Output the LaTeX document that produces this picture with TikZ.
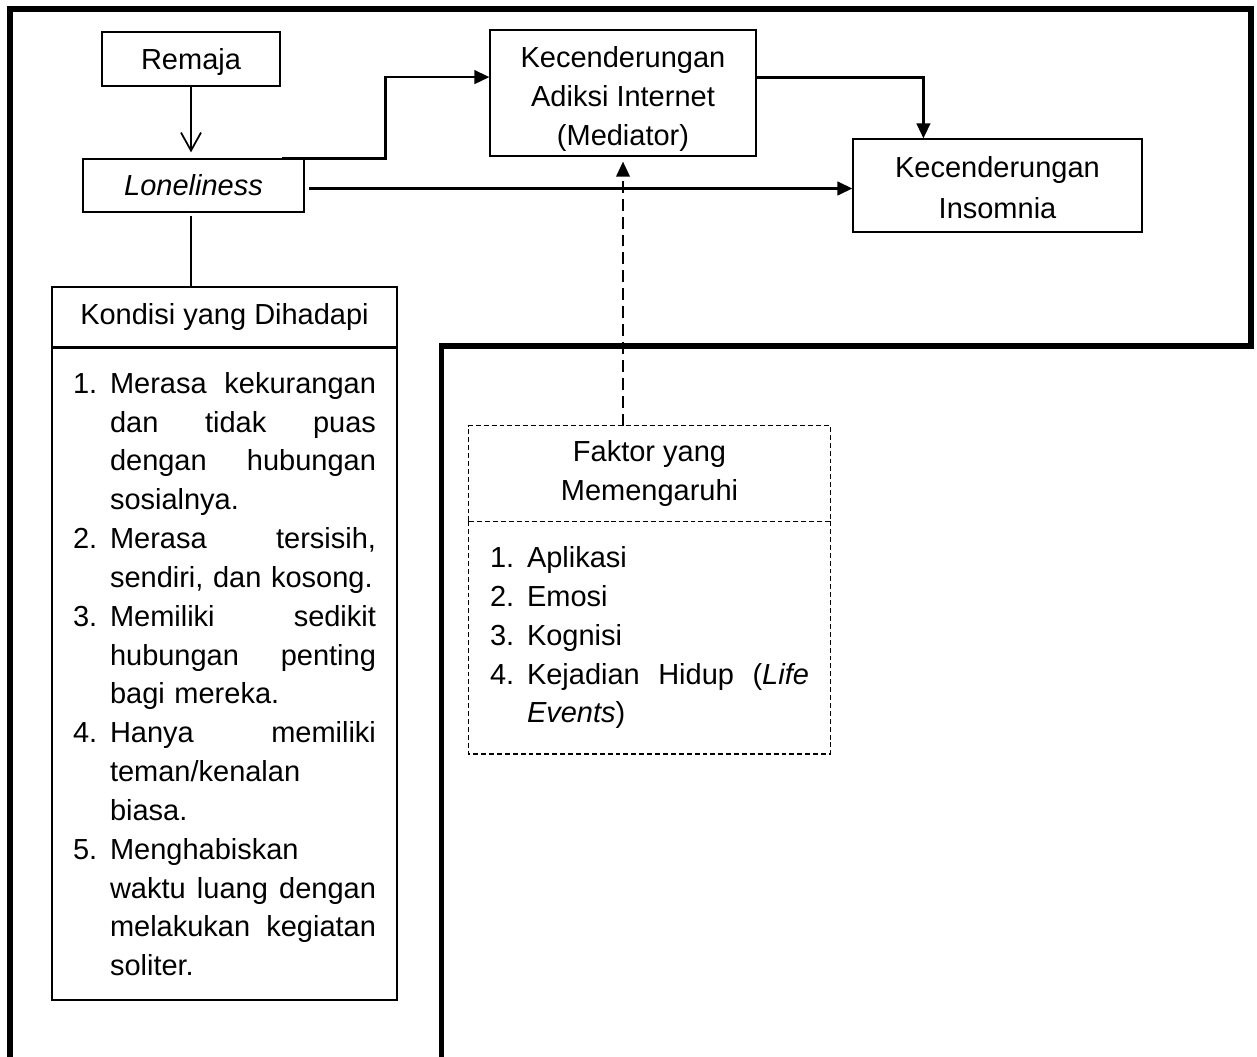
\documentclass[tikz,border=0pt]{standalone}
\usepackage{fontspec}
\setmainfont{Liberation Sans}
\usetikzlibrary{arrows.meta,positioning,calc}

\newlength{\numw}
\setlength{\numw}{0.74cm}

\tikzset{
  box/.style={draw,line width=0.7pt,align=center,inner sep=0pt},
  dbox/.style={inner sep=0pt,align=center},
  dline/.style={line width=0.7pt,dash pattern=on 2.8pt off 1.7pt},
  conn/.style={line width=1.5pt,-{Triangle[length=0.3cm,width=0.27cm]}},
}

\begin{document}
\begin{tikzpicture}[x=0.02cm,y=-0.02cm,font=\fontsize{16.5}{22.1}\selectfont]
  \useasboundingbox (0,0) rectangle (1257,1057);
  % thick frame
  \draw[line width=3.4pt] (10,1060)--(10,9)--(1251,9)--(1251,346)--(441.5,346)--(441.5,1060);

  \node[box,minimum width=3.56cm,minimum height=1.08cm,text depth=0pt] (remaja) at (191,59) {Remaja};
  \node[box,minimum width=4.42cm,minimum height=1.06cm] (lone) at (193.5,185.5) {\textit{Loneliness}};
  \node[box,minimum width=5.32cm,minimum height=2.52cm] (medi) at (623,93) {\rule{0pt}{0.66cm}Kecenderungan\\Adiksi Internet\\(Mediator)};
  \node[box,minimum width=5.78cm,minimum height=1.86cm] (insom) at (997.5,185.5) {\rule{0pt}{0.5cm}Kecenderungan\\[0.04cm]Insomnia};

  \node[box,minimum width=6.9cm,minimum height=1.2cm] (kondhead) at (224.5,317) {Kondisi yang Dihadapi};
  \node[box,minimum width=6.9cm,minimum height=13.04cm,below=0pt of kondhead,text width=6.06cm,align=left] (kondlist) {%
    \makebox[\numw][l]{1.}Merasa\hfill kekurangan\\
    \hspace*{\numw}dan\hfill tidak\hfill puas\\
    \hspace*{\numw}dengan\hfill hubungan\\
    \hspace*{\numw}sosialnya.\\
    \makebox[\numw][l]{2.}Merasa\hfill tersisih,\\
    \hspace*{\numw}sendiri, dan kosong.\\
    \makebox[\numw][l]{3.}Memiliki\hfill sedikit\\
    \hspace*{\numw}hubungan\hfill penting\\
    \hspace*{\numw}bagi mereka.\\
    \makebox[\numw][l]{4.}Hanya\hfill memiliki\\
    \hspace*{\numw}teman/kenalan\\
    \hspace*{\numw}biasa.\\
    \makebox[\numw][l]{5.}Menghabiskan\\
    \hspace*{\numw}waktu\hfill luang\hfill dengan\\
    \hspace*{\numw}melakukan\hfill kegiatan\\
    \hspace*{\numw}soliter.};

  \node[dbox,minimum width=7.22cm,minimum height=1.9cm] (fakhead) at (649.5,473.5) {Faktor yang\\Memengaruhi};
  \node[dbox,minimum width=7.22cm,minimum height=4.64cm,below=0pt of fakhead,text width=6.38cm,align=left] (faklist) {%
    \makebox[\numw][l]{1.}Aplikasi\\
    \makebox[\numw][l]{2.}Emosi\\
    \makebox[\numw][l]{3.}Kognisi\\
    \makebox[\numw][l]{4.}Kejadian\hfill Hidup\hfill (\textit{Life}\\
    \hspace*{\numw}\textit{Events})};
  \draw[dline] (fakhead.south west) rectangle (fakhead.north east);
  \draw[dline] (faklist.north west) |- (faklist.south east) -- (faklist.north east);

  % connectors
  \coordinate (lonetop) at ($(lone.north east)+(-23,0)$);
  \coordinate (loneout) at ($(lone.east)+(0,3)$);
  \coordinate (mediin) at ($(medi.north west)!0.375!(medi.south west)$);
  \coordinate (mediout) at ($(medi.north east)!0.38!(medi.south east)$);
  \coordinate (insomin) at ($(insom.north west)+(71,0)$);
  \draw[line width=1pt,-{Straight Barb[length=0.36cm,width=0.4cm]},shorten >=0.12cm] (remaja.south) -- (remaja.south |- lone.north);
  \draw[line width=1pt] (lone.south -| remaja.south) ++(0,3) -- (kondhead.north -| remaja.south);
  \draw[conn] (lonetop) -- ++(104,0) |- (mediin);
  \draw[conn,shorten <=0.08cm] (loneout) -- (loneout -| insom.west);
  \draw[conn] (mediout) -| (insomin);
  \draw[line width=1.1pt,dash pattern=on 6.8pt off 3.4pt,-{Triangle[length=0.3cm,width=0.27cm]},shorten >=0.1cm] (fakhead.north -| medi.south) -- (medi.south);
\end{tikzpicture}
\end{document}
